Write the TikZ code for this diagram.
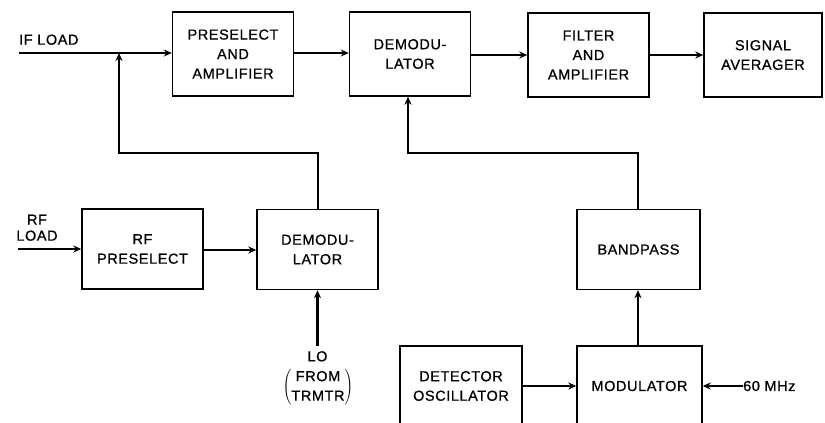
\documentclass[tikz,border=0pt]{standalone}
\usepackage{fontspec}
\setmainfont{Liberation Sans}[LetterSpace=4,FakeBold=0.8]
\usetikzlibrary{arrows.meta}
\begin{document}
\begin{tikzpicture}[x=1pt,y=-1pt,
  blk/.style={draw,line width=1.4pt,align=center,inner sep=0pt,
    minimum width=121pt,minimum height=84pt,font=\fontsize{14.5}{19.5}\selectfont},
  lbl/.style={align=center,inner sep=0pt,font=\fontsize{14.5}{16}\selectfont},
  wire/.style={line width=2.4pt},
  arr/.style={wire,-{Stealth[length=8pt,width=7pt]}}]
\useasboundingbox (0,0) rectangle (825,423);
\clip (0,0) rectangle (825,423);
% top row
\node[blk] (pa) at (233,54) {PRESELECT\\AND\\AMPLIFIER};
\node[blk] (dm1) at (410,54) {DEMODU-\\LATOR};
\node[blk] (fa) at (588.5,55) {FILTER\\AND\\AMPLIFIER};
\node[blk,minimum width=118pt] (sa) at (763,55) {SIGNAL\\AVERAGER};
% middle row
\node[blk,minimum height=80pt] (rf) at (142.5,249) {RF\\PRESELECT};
\node[blk,minimum height=80pt] (dm2) at (317.5,249.5) {DEMODU-\\LATOR};
\node[blk,minimum height=80pt,minimum width=123pt] (bp) at (638.5,249.5) {BANDPASS};
% bottom row
\node[blk,minimum height=80pt,minimum width=122pt] (det) at (461,386) {DETECTOR\\OSCILLATOR};
\node[blk,minimum height=80pt,minimum width=125pt] (mod) at (639.5,386) {MODULATOR};
% labels and free ends
\coordinate (ifs) at (19,53);
\coordinate (j1) at (119,53);
\node[lbl,anchor=south west] (ifl) at (19,45) {IF LOAD};
\coordinate (rfs) at (18,249);
\node[lbl,anchor=south] (rfl) at (37,241) {RF\\LOAD};
\coordinate (los) at (317.5,346);
\node[lbl,anchor=north] (lol) at (317.5,351) {LO};
\node[inner sep=0pt] (from) at (318,387)
  {\fontsize{14.5}{19.5}\selectfont$\left(\vcenter{\hbox{\begin{tabular}{@{}c@{}}FROM\\TRMTR\end{tabular}}}\right)$};
\node[lbl,anchor=west] (mhz) at (743,386) {60 MHz};
\coordinate (c1) at (318,153);
\coordinate (c2) at (119,153);
\coordinate (c3) at (638,153);
\coordinate (c4) at (408,153);
% connectors
\draw[wire] (ifs) -- (j1);
\draw[arr] (j1) -- (pa.west |- j1);
\draw[arr] (pa.east |- 0,53) -- (dm1.west |- 0,53);
\draw[arr] (dm1.east |- 0,55) -- (fa.west |- 0,55);
\draw[arr] (fa.east |- 0,55) -- (sa.west |- 0,55);
\draw[arr] (dm2.north -| c1) -- (c1) -- (c2) -- (j1);
\draw[arr] (bp.north -| c3) -- (c3) -- (c4) -- (dm1.south -| c4);
\draw[arr] (rfs) -- (rf.west |- rfs);
\draw[arr] (rf.east |- 0,250) -- (dm2.west |- 0,250);
\draw[arr] (los) -- (dm2.south);
\draw[arr] (mod.north -| c3) -- (bp.south -| c3);
\draw[arr] (det.east) -- (mod.west);
\draw[arr] (mhz.west) -- (mod.east);
\end{tikzpicture}
\end{document}
